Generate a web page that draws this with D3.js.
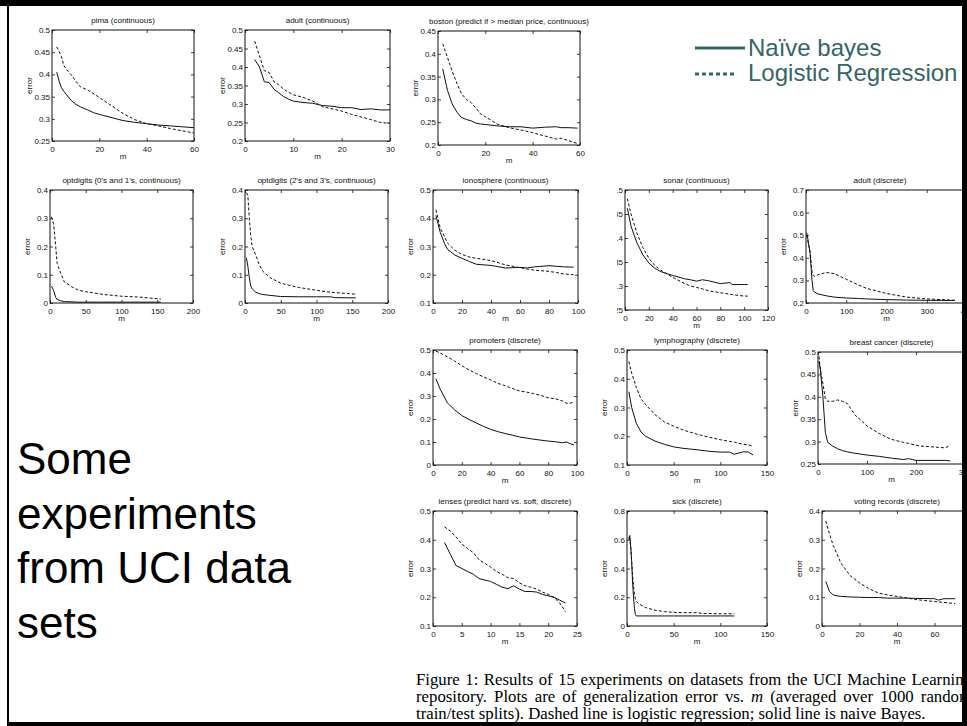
<!DOCTYPE html>
<html>
<head>
<meta charset="utf-8">
<script src="https://cdn.jsdelivr.net/npm/d3@7"></script>
<style>
  body { margin: 0; background: #fff; }
  svg { display: block; }
</style>
</head>
<body>
<svg id="c" width="967" height="726"></svg>
<script>
// ---- Learning curves: generalization error vs. training-set size m ----
// NB = naive Bayes (solid), LR = logistic regression (dashed)

const titles = [
  "pima (continuous)", "adult (continuous)", "boston (predict if > median price, continuous)",
  "optdigits (0's and 1's, continuous)", "optdigits (2's and 3's, continuous)",
  "ionosphere (continuous)", "sonar (continuous)", "adult (discrete)",
  "promoters (discrete)", "lymphography (discrete)", "breast cancer (discrete)",
  "lenses (predict hard vs. soft, discrete)", "sick (discrete)", "voting records (discrete)"
];

const pimaM  = [2,3,4,5,6,8,10,12,15,18,20,25,30,35,40,45,50,55,60];
const pimaNB = [0.405,0.385,0.370,0.362,0.355,0.342,0.333,0.327,0.320,0.313,0.310,0.303,0.296,0.292,0.289,0.286,0.284,0.282,0.280];
const pimaLR = [0.462,0.452,0.440,0.420,0.412,0.400,0.385,0.372,0.365,0.355,0.348,0.330,0.312,0.298,0.289,0.284,0.278,0.273,0.268];
const pimaXTicks = [0,20,40,60];
const pimaYTicks = [0.25,0.3,0.35,0.4,0.45,0.5];

const adultM  = [2,3,4,5,6,7,8,9,10,12,14,16,18,20,22,24,26,28,30];
const adultNB = [0.420,0.400,0.360,0.358,0.340,0.330,0.320,0.313,0.308,0.304,0.302,0.296,0.294,0.290,0.290,0.285,0.287,0.284,0.284];
const adultLR = [0.470,0.430,0.390,0.385,0.360,0.352,0.340,0.332,0.325,0.318,0.308,0.293,0.287,0.281,0.272,0.265,0.258,0.250,0.248];
const adultXTicks = [0,10,20,30];
const adultYTicks = [0.2,0.25,0.3,0.35,0.4,0.45,0.5];

const bostonM  = [2,4,6,8,10,12,14,16,18,20,25,30,35,40,45,50,52,55,59];
const bostonNB = [0.367,0.320,0.290,0.272,0.260,0.256,0.253,0.248,0.246,0.245,0.242,0.240,0.240,0.237,0.239,0.240,0.238,0.238,0.237];
const bostonLR = [0.422,0.392,0.362,0.335,0.312,0.300,0.293,0.281,0.268,0.262,0.246,0.238,0.233,0.227,0.220,0.213,0.215,0.210,0.203];
const bostonXTicks = [0,20,40,60];
const bostonYTicks = [0.2,0.25,0.3,0.35,0.4,0.45];

const opt01M  = [2,5,8,10,15,20,30,40,50,75,100,125,155];
const opt01NB = [0.060,0.045,0.020,0.012,0.008,0.005,0.004,0.003,0.003,0.003,0.003,0.003,0.003];
const opt01LR = [0.305,0.280,0.200,0.140,0.105,0.075,0.058,0.045,0.040,0.030,0.024,0.021,0.014];
const optXTicks = [0,50,100,150,200];
const optYTicks = [0,0.1,0.2,0.3,0.4];

const opt23M  = [2,4,6,8,10,15,20,25,35,50,75,100,120,125,155];
const opt23NB = [0.160,0.130,0.090,0.060,0.050,0.038,0.033,0.030,0.027,0.023,0.022,0.022,0.022,0.019,0.018];
const opt23LR = [0.390,0.380,0.300,0.240,0.200,0.170,0.135,0.112,0.090,0.070,0.055,0.045,0.038,0.037,0.031];

const ionoM  = [2,5,8,10,15,20,25,30,40,50,60,65,70,80,85,90,97];
const ionoNB = [0.410,0.350,0.310,0.290,0.270,0.258,0.247,0.237,0.233,0.224,0.226,0.224,0.228,0.232,0.230,0.228,0.227];
const ionoLR = [0.430,0.365,0.335,0.312,0.287,0.272,0.263,0.258,0.250,0.235,0.225,0.220,0.216,0.212,0.208,0.203,0.200];
const ionoXTicks = [0,20,40,60,80,100];
const ionoYTicks = [0.1,0.2,0.3,0.4,0.5];

const sonarM  = [2,5,10,15,20,25,30,40,50,55,60,65,70,80,88,90,100,103];
const sonarNB = [0.462,0.425,0.390,0.365,0.348,0.337,0.330,0.322,0.315,0.313,0.310,0.313,0.311,0.305,0.307,0.303,0.303,0.303];
const sonarLR = [0.482,0.450,0.410,0.380,0.358,0.343,0.333,0.318,0.305,0.300,0.297,0.294,0.290,0.286,0.283,0.282,0.279,0.279];
const sonarXTicks = [0,20,40,60,80,100,120];
const sonarYTicks = [0.25,0.3,0.35,0.4,0.45,0.5];

const adultDM  = [2,5,10,15,18,20,25,30,50,70,100,130,150,200,250,300,370];
const adultDNB = [0.510,0.480,0.420,0.300,0.255,0.250,0.245,0.240,0.232,0.226,0.222,0.220,0.218,0.215,0.213,0.212,0.211];
const adultDLR = [0.500,0.470,0.430,0.340,0.322,0.318,0.320,0.325,0.335,0.330,0.305,0.280,0.265,0.242,0.226,0.218,0.212];
const adultDXTicks = [0,100,200,300,400];
const adultDYTicks = [0.2,0.3,0.4,0.5,0.6,0.7];

const promM  = [2,5,10,15,20,25,30,35,40,45,50,55,60,65,70,75,80,85,90,93,95,98];
const promNB = [0.375,0.330,0.270,0.240,0.215,0.198,0.183,0.168,0.155,0.145,0.137,0.130,0.122,0.117,0.112,0.108,0.104,0.101,0.097,0.100,0.093,0.087];
const promLR = [0.495,0.487,0.470,0.452,0.432,0.413,0.398,0.383,0.370,0.355,0.345,0.333,0.322,0.317,0.310,0.302,0.292,0.288,0.278,0.268,0.268,0.275];
const promXTicks = [0,20,40,60,80,100];
const promYTicks = [0,0.1,0.2,0.3,0.4,0.5];

const lymphM  = [2,5,10,15,20,30,40,50,60,75,90,100,110,115,120,125,130,135];
const lymphNB = [0.355,0.300,0.245,0.215,0.200,0.183,0.172,0.163,0.158,0.153,0.147,0.145,0.145,0.137,0.142,0.146,0.145,0.135];
const lymphLR = [0.460,0.420,0.370,0.330,0.310,0.275,0.250,0.235,0.222,0.207,0.195,0.188,0.182,0.180,0.175,0.172,0.170,0.165];
const lymphXTicks = [0,50,100,150];
const lymphYTicks = [0.1,0.2,0.3,0.4,0.5];

const breastM  = [2,5,10,15,20,30,40,50,60,75,100,125,150,175,185,200,210,260,270];
const breastNB = [0.480,0.460,0.400,0.320,0.298,0.290,0.284,0.280,0.277,0.274,0.270,0.267,0.263,0.260,0.262,0.258,0.258,0.258,0.257];
const breastLR = [0.490,0.460,0.430,0.395,0.390,0.390,0.393,0.390,0.385,0.360,0.335,0.318,0.305,0.298,0.296,0.292,0.290,0.286,0.292];
const breastXTicks = [0,100,200,300];
const breastYTicks = [0.25,0.3,0.35,0.4,0.45,0.5];

const lensesM  = [2,3,4,5,6,7,8,9,10,11,12,13,14,15,16,17,18,19,20,21,22,23];
const lensesNB = [0.39,0.35,0.31,0.30,0.29,0.28,0.265,0.26,0.255,0.245,0.235,0.23,0.24,0.228,0.22,0.22,0.218,0.21,0.205,0.20,0.19,0.18];
const lensesLR = [0.445,0.43,0.41,0.385,0.37,0.355,0.33,0.318,0.305,0.29,0.28,0.268,0.265,0.25,0.24,0.235,0.228,0.218,0.21,0.20,0.18,0.15];
const lensesXTicks = [0,5,10,15,20,25];
const lensesYTicks = [0.1,0.2,0.3,0.4,0.5];

const sickM  = [2,3,4,5,6,7,8,9,10,15,20,30,40,50,60,75,80,100,115];
const sickNB = [0.60,0.63,0.55,0.45,0.30,0.20,0.12,0.08,0.07,0.07,0.07,0.07,0.07,0.07,0.07,0.07,0.07,0.07,0.07];
const sickLR = [0.62,0.60,0.55,0.45,0.35,0.28,0.22,0.19,0.17,0.145,0.128,0.11,0.10,0.095,0.093,0.093,0.088,0.085,0.085];
const sickXTicks = [0,50,100,150];
const sickYTicks = [0,0.2,0.4,0.6,0.8];

const votingM  = [2,4,6,8,10,15,20,25,30,35,40,45,50,60,62,65,71];
const votingNB = [0.155,0.120,0.108,0.105,0.103,0.101,0.100,0.099,0.099,0.097,0.097,0.097,0.096,0.095,0.090,0.095,0.095];
const votingLR = [0.365,0.320,0.280,0.250,0.220,0.175,0.150,0.130,0.115,0.108,0.103,0.098,0.092,0.085,0.084,0.082,0.078];
const votingXTicks = [0,20,40,60,80];
const votingYTicks = [0,0.1,0.2,0.3,0.4];

const legendLabels = ["Naïve bayes", "Logistic Regression"];
const headingLines = ["Some", "experiments", "from UCI data", "sets"];

// ---- panel table: data references + placement of each axes box [left, right, top, bottom] ----
const panels = [
  { t: 0,  m: pimaM,   nb: pimaNB,   lr: pimaLR,   xt: pimaXTicks,   yt: pimaYTicks,   box: [52, 194, 30, 141] },
  { t: 1,  m: adultM,  nb: adultNB,  lr: adultLR,  xt: adultXTicks,  yt: adultYTicks,  box: [245, 390, 30, 141] },
  { t: 2,  m: bostonM, nb: bostonNB, lr: bostonLR, xt: bostonXTicks, yt: bostonYTicks, box: [438, 580, 31, 145] },
  { t: 3,  m: opt01M,  nb: opt01NB,  lr: opt01LR,  xt: optXTicks,    yt: optYTicks,    box: [50, 193, 190, 303] },
  { t: 4,  m: opt23M,  nb: opt23NB,  lr: opt23LR,  xt: optXTicks,    yt: optYTicks,    box: [245, 388, 190, 303] },
  { t: 5,  m: ionoM,   nb: ionoNB,   lr: ionoLR,   xt: ionoXTicks,   yt: ionoYTicks,   box: [433, 578, 190, 303] },
  { t: 6,  m: sonarM,  nb: sonarNB,  lr: sonarLR,  xt: sonarXTicks,  yt: sonarYTicks,  box: [625, 768, 190, 310], clipLeft: 617 },
  { t: 7,  m: adultDM, nb: adultDNB, lr: adultDLR, xt: adultDXTicks, yt: adultDYTicks, box: [806, 967, 190, 303], titleX: 880 },
  { t: 8,  m: promM,   nb: promNB,   lr: promLR,   xt: promXTicks,   yt: promYTicks,   box: [433, 577, 350, 465] },
  { t: 9,  m: lymphM,  nb: lymphNB,  lr: lymphLR,  xt: lymphXTicks,  yt: lymphYTicks,  box: [627, 767, 350, 465] },
  { t: 10, m: breastM, nb: breastNB, lr: breastLR, xt: breastXTicks, yt: breastYTicks, box: [818, 965, 352, 464] },
  { t: 11, m: lensesM, nb: lensesNB, lr: lensesLR, xt: lensesXTicks, yt: lensesYTicks, box: [433, 577, 511, 626] },
  { t: 12, m: sickM,   nb: sickNB,   lr: sickLR,   xt: sickXTicks,   yt: sickYTicks,   box: [627, 767, 511, 626] },
  { t: 13, m: votingM, nb: votingNB, lr: votingLR, xt: votingXTicks, yt: votingYTicks, box: [822, 972, 511, 626] }
];

const svg = d3.select("#c");
const SANS = "'Liberation Sans', Arial, Helvetica, sans-serif";
const INK = "#111";
const fmt = d3.format("~g");

function styleAxis(sel) {
  sel.select(".domain").remove();
  sel.attr("font-family", SANS).attr("font-size", 8);
  sel.selectAll("line").attr("stroke", INK).attr("stroke-width", 0.8);
  sel.selectAll("text").attr("fill", INK);
}

panels.forEach((p, i) => {
  const [L, R, T, B] = p.box;
  const x = d3.scaleLinear().domain([p.xt[0], p.xt[p.xt.length - 1]]).range([L, R]);
  const y = d3.scaleLinear().domain([p.yt[0], p.yt[p.yt.length - 1]]).range([B, T]);

  const g = svg.append("g");
  if (p.clipLeft != null) {
    const id = "clip" + i;
    svg.append("clipPath").attr("id", id)
      .append("rect").attr("x", p.clipLeft).attr("y", 0).attr("width", 967 - p.clipLeft).attr("height", 726);
    g.attr("clip-path", `url(#${id})`);
  }

  g.append("g").attr("transform", `translate(0,${B})`)
    .call(d3.axisBottom(x).tickValues(p.xt).tickFormat(fmt).tickSize(-3).tickPadding(5)).call(styleAxis);
  g.append("g").attr("transform", `translate(0,${T})`)
    .call(d3.axisTop(x).tickValues(p.xt).tickFormat(() => "").tickSize(-3)).call(styleAxis);
  g.append("g").attr("transform", `translate(${L},0)`)
    .call(d3.axisLeft(y).tickValues(p.yt).tickFormat(fmt).tickSize(-3).tickPadding(2)).call(styleAxis);
  g.append("g").attr("transform", `translate(${R},0)`)
    .call(d3.axisRight(y).tickValues(p.yt).tickFormat(() => "").tickSize(-3)).call(styleAxis);

  g.append("rect")
    .attr("x", L).attr("y", T).attr("width", R - L).attr("height", B - T)
    .attr("fill", "none").attr("stroke", INK).attr("stroke-width", 1);

  const line = d3.line().x(d => x(d[0])).y(d => y(d[1]));
  g.append("path")
    .datum(p.m.map((m, k) => [m, p.nb[k]]))
    .attr("d", line).attr("fill", "none").attr("stroke", INK).attr("stroke-width", 1);
  g.append("path")
    .datum(p.m.map((m, k) => [m, p.lr[k]]))
    .attr("d", line).attr("fill", "none").attr("stroke", INK).attr("stroke-width", 1)
    .attr("stroke-dasharray", "3,2");

  g.append("text")
    .attr("x", p.titleX != null ? p.titleX : (L + R) / 2).attr("y", T - 7)
    .attr("text-anchor", "middle").attr("font-family", SANS).attr("font-size", 8).attr("fill", INK)
    .text(titles[p.t]);
  g.append("text")
    .attr("x", (L + R) / 2).attr("y", B + 18)
    .attr("text-anchor", "middle").attr("font-family", SANS).attr("font-size", 8).attr("fill", INK)
    .text("m");
  g.append("text")
    .attr("transform", `translate(${L - 20},${(T + B) / 2}) rotate(-90)`)
    .attr("text-anchor", "middle").attr("font-family", SANS).attr("font-size", 8).attr("fill", INK)
    .text("error");
});

// ---- legend ----
const TEAL = "#336666";
const leg = svg.append("g");
leg.append("line").attr("x1", 695).attr("x2", 745).attr("y1", 48).attr("y2", 48)
  .attr("stroke", TEAL).attr("stroke-width", 3);
leg.append("line").attr("x1", 695).attr("x2", 734).attr("y1", 74).attr("y2", 74)
  .attr("stroke", TEAL).attr("stroke-width", 3).attr("stroke-dasharray", "4,3");
leg.selectAll("text.lg").data(legendLabels).enter().append("text")
  .attr("x", 748).attr("y", (d, i) => 56 + i * 25)
  .attr("font-family", SANS).attr("font-size", 24).attr("fill", TEAL)
  .text(d => d);

// ---- slide heading ----
svg.append("g").selectAll("text").data(headingLines).enter().append("text")
  .attr("x", 17).attr("y", (d, i) => 474 + i * 54.7)
  .attr("font-family", SANS).attr("font-size", 44).attr("fill", "#000")
  .text(d => d);

// ---- figure caption (justified, serif) ----
const SERIF = "'Liberation Serif', 'DejaVu Serif', Times, serif";
const capX = 416, capW = 556, lastW = 510;
const capBase = [685, 702, 719];
const capLines = [
  [{ s: "Figure 1: Results of 15 experiments on datasets from the UCI Machine Learning" }],
  [{ s: "repository. Plots are of generalization error vs. " }, { s: "m", it: true }, { s: " (averaged over 1000 random" }],
  [{ s: "train/test splits). Dashed line is logistic regression; solid line is naive Bayes." }]
];
const capG = svg.append("g");
const capInner = capG.append("g");
const capTexts = capLines.map((parts, i) => {
  const t = capInner.append("text").attr("x", 0).attr("y", capBase[i])
    .attr("font-family", SERIF).attr("font-size", 16).attr("fill", "#000");
  parts.forEach(pt => t.append("tspan").attr("font-style", pt.it ? "italic" : null).text(pt.s));
  return t;
});
// condense glyphs horizontally so the last (unjustified) line keeps its width
const sx = lastW / capTexts[2].node().getComputedTextLength();
capInner.attr("transform", `translate(${capX},0) scale(${sx},1)`);
// stretch inter-word spaces of the full lines to the column width
[0, 1].forEach(i => {
  const t = capTexts[i];
  const w = t.node().getComputedTextLength();
  const spaces = capLines[i].map(p => p.s).join("").split(" ").length - 1;
  t.attr("word-spacing", (capW / sx - w) / spaces);
});

// ---- slide frame ----
svg.append("rect").attr("x", 0).attr("y", 0).attr("width", 967).attr("height", 6).attr("fill", "#000");
svg.append("rect").attr("x", 7).attr("y", 6).attr("width", 2).attr("height", 720).attr("fill", "#000");
svg.append("rect").attr("x", 7).attr("y", 722).attr("width", 960).attr("height", 4).attr("fill", "#000");
svg.append("rect").attr("x", 962).attr("y", 0).attr("width", 5).attr("height", 726).attr("fill", "#000");
</script>
</body>
</html>
